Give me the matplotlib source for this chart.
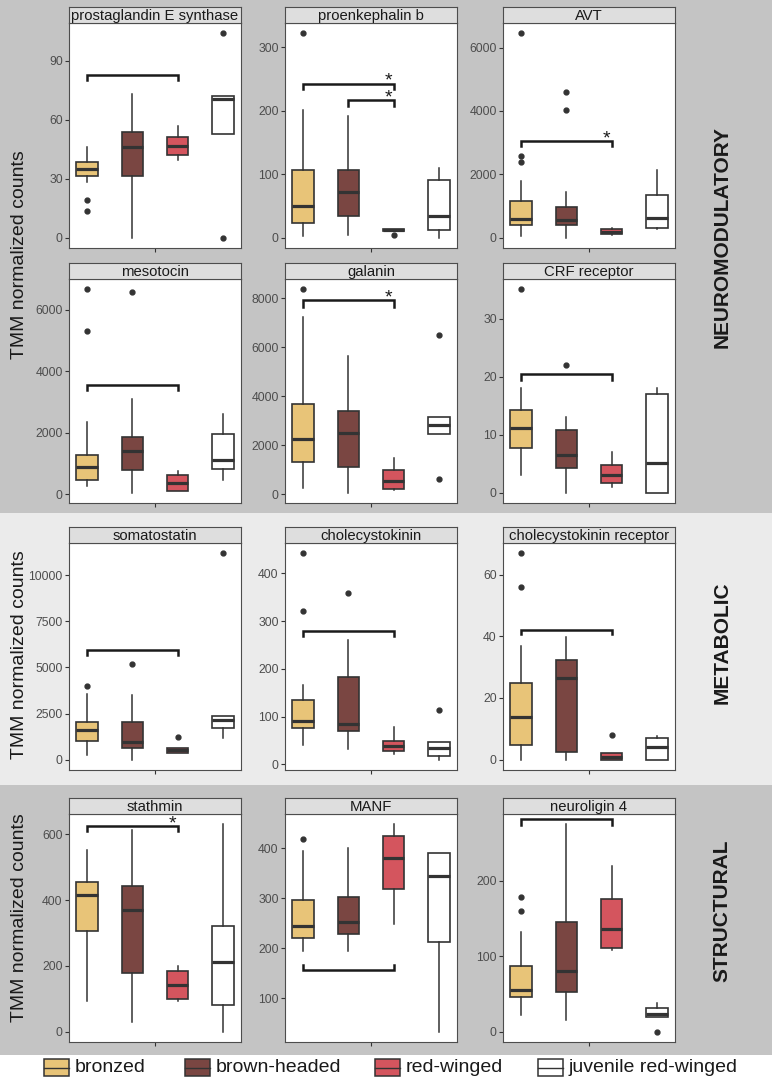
# boxplots of TMM normalized counts per gene, three functional sections
import matplotlib
matplotlib.use("Agg")
import matplotlib.pyplot as plt
from matplotlib.patches import Rectangle

plt.rcParams["font.family"] = ["Liberation Sans", "DejaVu Sans"]

W, H = 774, 1080

GROUPS = ["bronzed", "brown-headed", "red-winged", "juvenile red-winged"]
COLORS = ["#e8c478", "#7a4642", "#d4555e", "#ffffff"]
SECTIONS = ["NEUROMODULATORY", "METABOLIC", "STRUCTURAL"]
YLABEL = "TMM normalized counts"

# per group: whisker low, q1, median, q3, whisker high
PGES_BOX = [[28.3, 31.6, 35.2, 38.7, 46.0], [0, 31.6, 46.4, 53.8, 73.1],
            [39.6, 42.3, 46.5, 51.3, 56.7], [53.0, 53.0, 70.5, 72.2, 72.2]]
PGES_OUT = [[19.1, 13.4], [], [], [0, 104]]
PGES_TICKS = [0, 30, 60, 90]
PGES_SIG = [(1, 3, 82.6, 80.0, False)]

PENK_BOX = [[2.6, 23.6, 49.7, 106, 201.6], [3.7, 34, 72.3, 107.3, 191],
            [10.5, 10.5, 12, 13.5, 14], [0, 13, 35, 91, 110]]
PENK_OUT = [[322], [], [3.7], []]
PENK_TICKS = [0, 100, 200, 300]
PENK_SIG = [(1, 3, 242.4, 234, True), (2, 3, 217, 208, True)]

AVT_BOX = [[53, 400, 578, 1156, 1786], [0, 389, 557, 977, 1450],
           [74, 126, 189, 284, 315], [263, 305, 630, 1334, 2133]]
AVT_OUT = [[2595, 2396, 6452], [4602, 4035], [], []]
AVT_TICKS = [0, 2000, 4000, 6000]
AVT_SIG = [(1, 3, 3047, 2890, True)]

MESO_BOX = [[271, 455, 888, 1278, 2350], [43, 801, 1408, 1863, 3087],
            [87, 97, 347, 607, 747], [455, 812, 1105, 1971, 2621]]
MESO_OUT = [[6672, 5318], [6574], [], []]
MESO_TICKS = [0, 2000, 4000, 6000]
MESO_SIG = [(1, 3, 3563, 3401, False)]

GAL_BOX = [[258, 1304, 2268, 3694, 7226], [54, 1114, 2499, 3396, 5623],
           [163, 217, 543, 978, 1494], [2445, 2445, 2839, 3165, 3165]]
GAL_OUT = [[8367], [], [], [6479, 638]]
GAL_TICKS = [0, 2000, 4000, 6000, 8000]
GAL_SIG = [(1, 3, 7905, 7660, True)]

CRF_BOX = [[3.0, 7.7, 11.1, 14.3, 18.1], [0, 4.2, 6.6, 10.8, 13],
           [1.0, 1.7, 3.1, 4.8, 7.0], [0, 0, 5.1, 17.1, 18.0]]
CRF_OUT = [[35.1], [22.1], [], []]
CRF_TICKS = [0, 10, 20, 30]
CRF_SIG = [(1, 3, 20.5, 19.5, False)]

SST_BOX = [[235, 1013, 1591, 2061, 3544], [0, 651, 940, 2043, 3490],
           [344, 380, 542, 651, 651], [1175, 1718, 2134, 2351, 2351]]
SST_OUT = [[4014], [5208], [1230], [11175]]
SST_TICKS = [0, 2500, 5000, 7500, 10000]
SST_SIG = [(1, 3, 5931, 5660, False)]

CCK_BOX = [[40, 77, 91, 134, 166], [32, 69, 84, 183, 260],
           [21, 28, 38, 50, 78], [10, 17, 35, 48, 48]]
CCK_OUT = [[322, 442], [358], [], [113]]
CCK_TICKS = [0, 100, 200, 300, 400]
CCK_SIG = [(1, 3, 280, 268, False)]

CCKR_BOX = [[0, 4.6, 13.7, 24.8, 36.8], [0, 2.6, 26.5, 32.4, 39.8],
            [0, 0, 0.9, 2.1, 2.1], [0, 0, 4.0, 6.9, 7.8]]
CCKR_OUT = [[55.9, 66.9], [], [8.0], []]
CCKR_TICKS = [0, 20, 40, 60]
CCKR_SIG = [(1, 3, 42.2, 40.8, False)]

STMN_BOX = [[93.6, 307, 415, 455, 551], [30.5, 178, 370, 442, 612],
            [94.6, 100, 142, 185, 200], [0, 81, 211, 320, 630]]
STMN_OUT = [[], [], [], []]
STMN_TICKS = [0, 200, 400, 600]
STMN_SIG = [(1, 3, 625, 609, True)]

MANF_BOX = [[194.6, 220, 245, 297, 395], [195, 228, 252, 302, 401],
            [248, 319, 380, 424, 448], [33.6, 213, 344, 390, 390]]
MANF_OUT = [[418], [], [], []]
MANF_TICKS = [100, 200, 300, 400]
MANF_SIG = [(1, 3, 156, 166, False)]

NLGN_BOX = [[21.7, 46, 55, 87, 132], [15.5, 53, 80.5, 145.6, 274.3],
            [108, 110.6, 136, 175, 218.6], [20, 20, 24, 31.4, 37.6]]
NLGN_OUT = [[159, 178], [], [], [0]]
NLGN_TICKS = [0, 100, 200]
NLGN_SIG = [(1, 3, 281, 274, False)]

PANELS = [
    [("prostaglandin E synthase", PGES_BOX, PGES_OUT, PGES_TICKS, PGES_SIG),
     ("proenkephalin b", PENK_BOX, PENK_OUT, PENK_TICKS, PENK_SIG),
     ("AVT", AVT_BOX, AVT_OUT, AVT_TICKS, AVT_SIG)],
    [("mesotocin", MESO_BOX, MESO_OUT, MESO_TICKS, MESO_SIG),
     ("galanin", GAL_BOX, GAL_OUT, GAL_TICKS, GAL_SIG),
     ("CRF receptor", CRF_BOX, CRF_OUT, CRF_TICKS, CRF_SIG)],
    [("somatostatin", SST_BOX, SST_OUT, SST_TICKS, SST_SIG),
     ("cholecystokinin", CCK_BOX, CCK_OUT, CCK_TICKS, CCK_SIG),
     ("cholecystokinin receptor", CCKR_BOX, CCKR_OUT, CCKR_TICKS, CCKR_SIG)],
    [("stathmin", STMN_BOX, STMN_OUT, STMN_TICKS, STMN_SIG),
     ("MANF", MANF_BOX, MANF_OUT, MANF_TICKS, MANF_SIG),
     ("neuroligin 4", NLGN_BOX, NLGN_OUT, NLGN_TICKS, NLGN_SIG)],
]

# layout in pixels
COLS = [(69, 241), (285, 457), (503, 675)]
ROWS = [(23, 248), (279, 503), (543, 770), (814, 1042)]
STRIP_H = 16
DARK = "#c4c4c4"
LIGHT = "#ebebeb"
EDGE = "#333333"


def px_axes(fig, l, t, r, b):
    return fig.add_axes([l / W, 1 - b / H, (r - l) / W, (b - t) / H])


fig = plt.figure(figsize=(W / 100, H / 100), dpi=100)

# overlay for backgrounds, labels and legend
bg = fig.add_axes([0, 0, 1, 1])
bg.set_xlim(0, W)
bg.set_ylim(H, 0)
bg.axis("off")
for (y0, y1), col in zip([(0, 513), (513, 785), (785, 1055)], [DARK, LIGHT, DARK]):
    bg.add_patch(Rectangle((0, y0), 772, y1 - y0, facecolor=col, edgecolor="none"))
for name, yc, lc in zip(SECTIONS, [237, 643, 911], [255, 655, 918]):
    bg.text(722, yc, name, rotation=90, ha="center", va="center",
            fontsize=15, fontweight="bold", color="#1a1a1a")
    bg.text(20, lc, YLABEL, rotation=90, ha="center", va="center",
            fontsize=14, color="#1a1a1a")

# legend
for x0, lab, col in zip([44, 185, 375, 538], GROUPS, COLORS):
    bg.add_patch(Rectangle((x0, 1059), 25, 17, facecolor=col, edgecolor=EDGE, lw=1.1))
    bg.plot([x0, x0 + 25], [1067.5, 1067.5], color=EDGE, lw=1.0)
    bg.text(x0 + 31, 1068, lab, ha="left", va="center", fontsize=14, color="#1a1a1a")

for r, row in enumerate(PANELS):
    top, bot = ROWS[r]
    for c, (title, box, out, ticks, sig) in enumerate(row):
        left, right = COLS[c]
        ax = px_axes(fig, left, top, right, bot)
        stats = []
        for g in range(4):
            lo, q1, med, q3, hi = box[g]
            stats.append(dict(whislo=lo, q1=q1, med=med, q3=q3, whishi=hi, fliers=out[g]))
        bp = ax.bxp(stats, positions=[1, 2, 3, 4], widths=0.48, patch_artist=True,
                    showcaps=False,
                    boxprops=dict(edgecolor=EDGE, linewidth=1.2),
                    medianprops=dict(color=EDGE, linewidth=2.3),
                    whiskerprops=dict(color=EDGE, linewidth=1.1),
                    flierprops=dict(marker="o", markerfacecolor=EDGE,
                                    markeredgecolor=EDGE, markersize=3.5))
        for patch, col in zip(bp["boxes"], COLORS):
            patch.set_facecolor(col)

        vals = [v for b in box for v in (b[0], b[4])] + [v for o in out for v in o]
        lo, hi = min(vals), max(vals)
        pad = 0.05 * (hi - lo)
        ax.set_ylim(lo - pad, hi + pad)
        ax.set_xlim(0.6, 4.4)
        ax.set_yticks(ticks)
        ax.set_xticks([2.5])
        ax.set_xticklabels([""])
        ax.tick_params(length=3, width=0.8, color=EDGE, labelsize=8.8,
                       labelcolor="#4d4d4d", pad=1.5)
        for s in ax.spines.values():
            s.set_color("#4d4d4d")
            s.set_linewidth(0.8)

        # significance brackets
        for x1, x2, y, tip, star in sig:
            ax.plot([x1, x1, x2, x2], [tip, y, y, tip], color="#1a1a1a",
                    lw=1.8, solid_joinstyle="miter", clip_on=False)
            if star:
                ax.annotate("*", xy=(x2, y), xytext=(-4, -1.5), textcoords="offset points",
                            ha="center", va="baseline", fontsize=14, color="#1a1a1a")

        # facet strip
        sax = px_axes(fig, left, top - STRIP_H, right, top)
        sax.set_facecolor("#dedede")
        sax.set_xticks([])
        sax.set_yticks([])
        for s in sax.spines.values():
            s.set_color("#4d4d4d")
            s.set_linewidth(0.8)
        sax.text(0.5, 0.45, title, ha="center", va="center", fontsize=10.7,
                 color="#1a1a1a", transform=sax.transAxes)

fig.savefig("out.png", dpi=100)
